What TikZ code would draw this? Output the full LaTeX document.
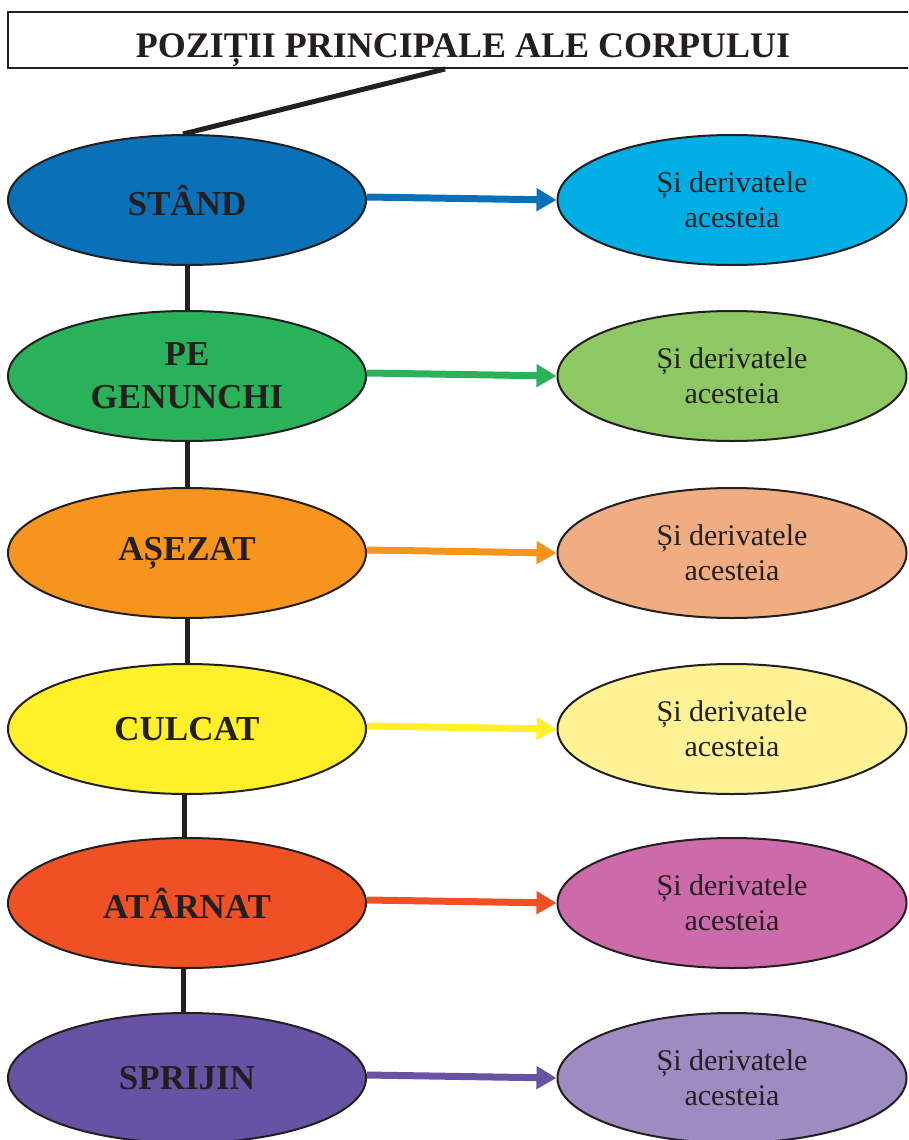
\documentclass[tikz,border=0pt]{standalone}
\usepackage{fontspec}
\setmainfont{Liberation Serif}
\usetikzlibrary{shapes.geometric,arrows.meta}

\definecolor{inkc}{HTML}{231F20}
\definecolor{standc}{HTML}{0A71B9}
\definecolor{standd}{HTML}{00AEE6}
\definecolor{genc}{HTML}{2AB25A}
\definecolor{gend}{HTML}{8DC862}
\definecolor{asezc}{HTML}{F7941E}
\definecolor{asezd}{HTML}{F0AD82}
\definecolor{culcc}{HTML}{FFF02A}
\definecolor{culcd}{HTML}{FDF395}
\definecolor{atarc}{HTML}{F05124}
\definecolor{atard}{HTML}{CD6BAA}
\definecolor{sprc}{HTML}{6753A3}
\definecolor{sprd}{HTML}{9E8BC2}

\begin{document}
\begin{tikzpicture}[
  x=1pt, y=-1pt,
  >={Triangle[length=20pt,width=22pt]},
  title box/.style={rectangle,draw=inkc,line width=2pt,minimum width=910pt,
    minimum height=56pt,inner sep=0pt,text=inkc,text height=34pt,text depth=0pt,
    font=\fontsize{36}{42}\selectfont\bfseries},
  pos node/.style={ellipse,draw=inkc,fill=#1,line width=2pt,minimum width=358pt,
    minimum height=130pt,inner sep=0pt,align=center,text=inkc,
    font=\fontsize{35}{43}\selectfont\bfseries},
  deriv node/.style={ellipse,draw=inkc,fill=#1,line width=2pt,minimum width=349pt,
    minimum height=130pt,inner sep=0pt,align=center,text=inkc,
    font=\fontsize{30}{35}\selectfont},
  trunk/.style={draw=inkc,line width=5pt},
  link/.style={draw=#1,line width=7pt,->}
]
\clip (0,0) rectangle (908,1140);

% title
\node[title box] (titlu) at (463,40) {POZIȚII PRINCIPALE ALE CORPULUI};

% main positions
\node[pos node=standc] (stand) at (187,200) {STÂND};
\node[pos node=genc] (genunchi) at (187,376) {PE\\GENUNCHI};
\node[pos node=asezc] (asezat) at (187,553) {AȘEZAT};
\node[pos node=culcc] (culcat) at (187,729) {CULCAT};
\node[pos node=atarc] (atarnat) at (187,903) {ATÂRNAT};
\node[pos node=sprc] (sprijin) at (187,1078) {SPRIJIN};

% derived positions
\node[deriv node=standd] (stand-d) at (732,200) {Și derivatele\\acesteia};
\node[deriv node=gend] (genunchi-d) at (732,376) {Și derivatele\\acesteia};
\node[deriv node=asezd] (asezat-d) at (732,553) {Și derivatele\\acesteia};
\node[deriv node=culcd] (culcat-d) at (732,729) {Și derivatele\\acesteia};
\node[deriv node=atard] (atarnat-d) at (732,903) {Și derivatele\\acesteia};
\node[deriv node=sprd] (sprijin-d) at (732,1078) {Și derivatele\\acesteia};

% trunk
\draw[trunk] ([xshift=-18pt]titlu.south) -- ([xshift=-4pt]stand.north);
\draw[trunk] (stand.south) -- (genunchi.north);
\draw[trunk] (genunchi.south) -- (asezat.north);
\draw[trunk] (asezat.south) -- (culcat.north);
\draw[trunk] ([xshift=-3pt]culcat.south) -- ([xshift=-3pt]atarnat.north);
\draw[trunk] ([xshift=-4pt]atarnat.south) -- ([xshift=-4pt]sprijin.north);

% arrows
\draw[link=standc] ([yshift=3pt]stand.east) -- (stand-d.west);
\draw[link=genc] ([yshift=3pt]genunchi.east) -- (genunchi-d.west);
\draw[link=asezc] ([yshift=3pt]asezat.east) -- (asezat-d.west);
\draw[link=culcc] ([yshift=3pt]culcat.east) -- (culcat-d.west);
\draw[link=atarc] ([yshift=3pt]atarnat.east) -- (atarnat-d.west);
\draw[link=sprc] ([yshift=3pt]sprijin.east) -- (sprijin-d.west);
\end{tikzpicture}
\end{document}
